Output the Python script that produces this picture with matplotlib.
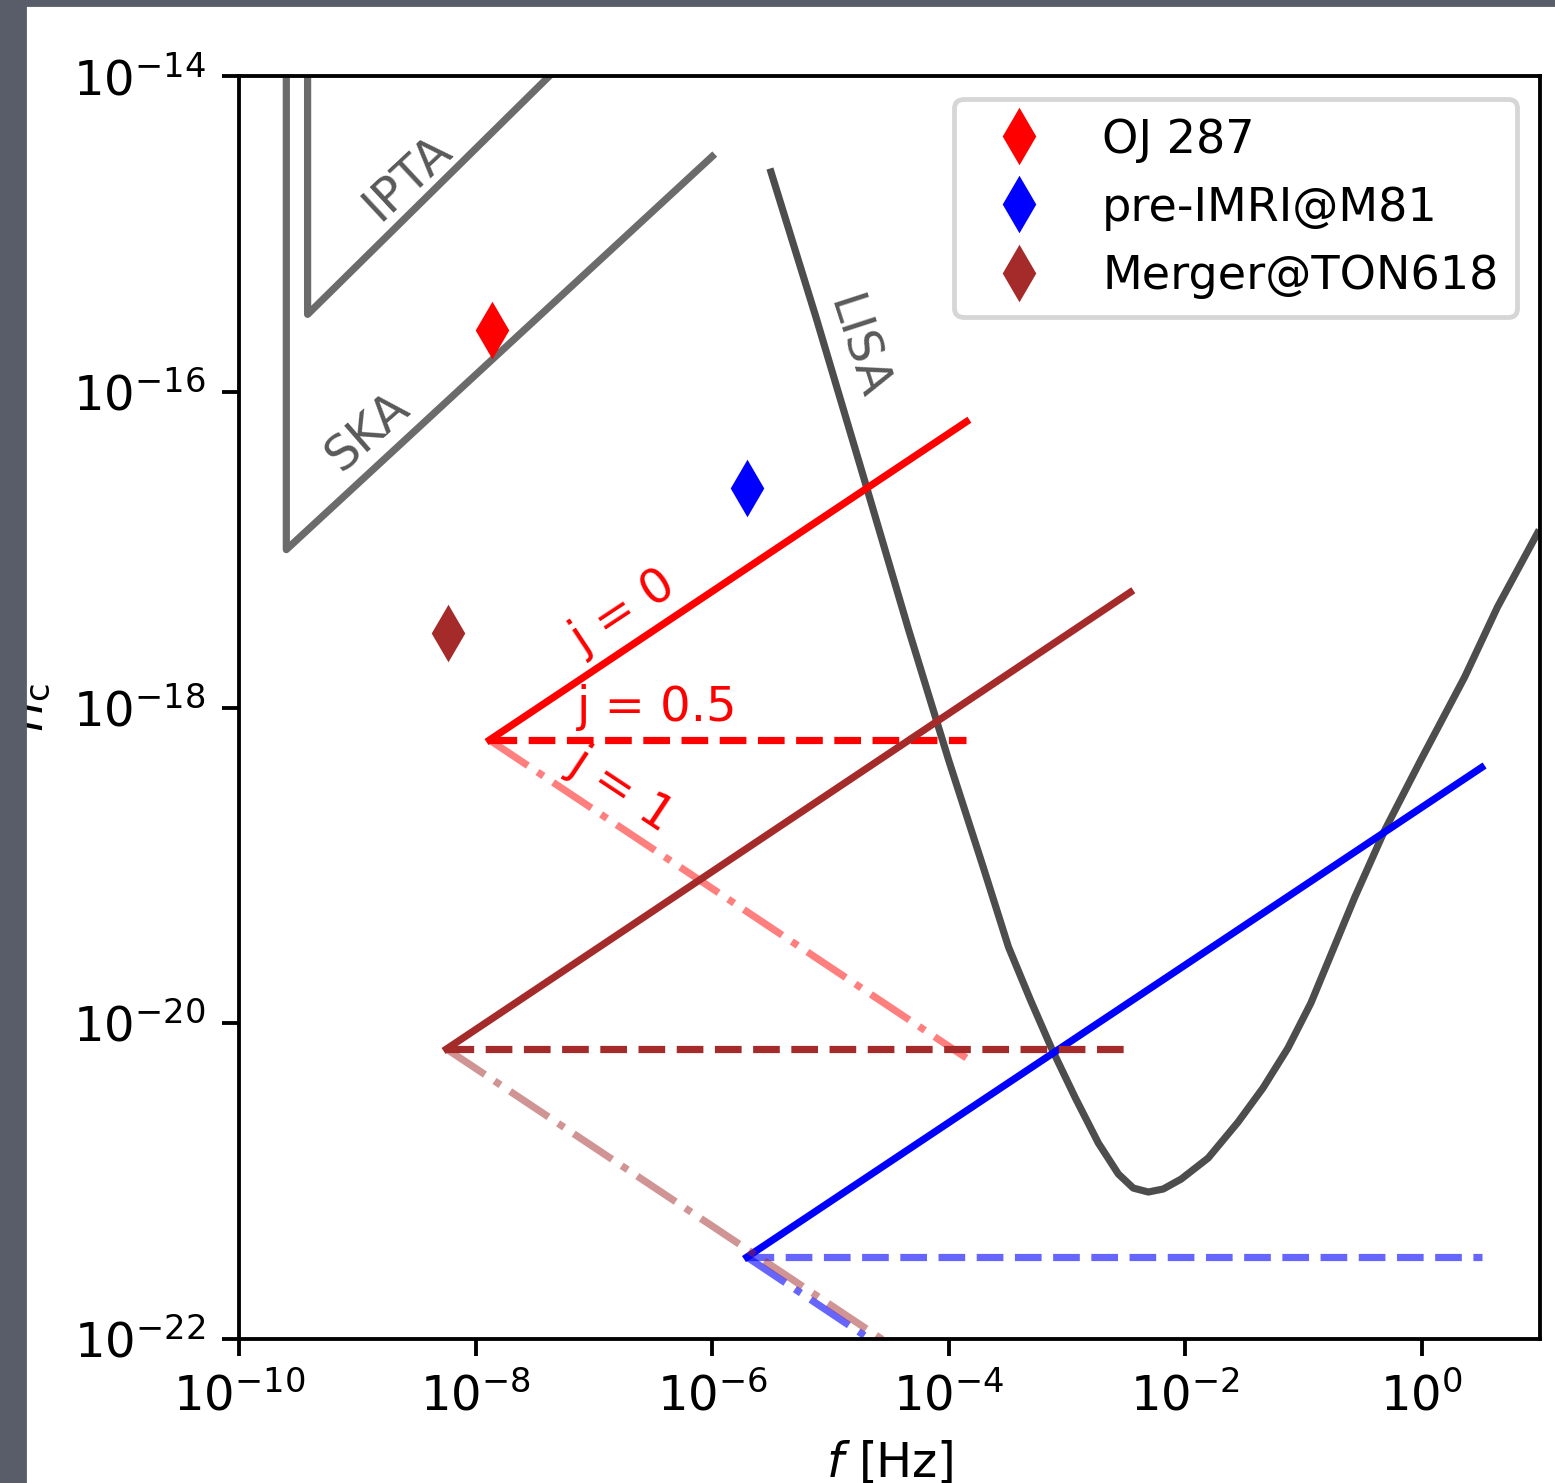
#!/usr/bin/env python3
"""Characteristic strain h_c vs f: PTA / LISA sensitivities and three SMBH binary tracks."""
import numpy as np
import matplotlib

matplotlib.use("Agg")
import matplotlib.pyplot as plt
from matplotlib.patches import Rectangle

# --- sensitivity curves (log10 f, log10 h_c) ---
ipta_logf = [-9.42, -9.42, -7.20]
ipta_logh = [-13.50, -15.51, -13.87]
ska_logf = [-9.60, -9.60, -6.00]
ska_logh = [-13.50, -17.00, -14.51]
lisa_logf = [-5.502, -5.122, -4.717, -4.338, -4.000, -3.705, -3.494, -3.308,
             -3.131, -2.928, -2.734, -2.565, -2.439, -2.312, -2.186, -2.034,
             -1.806, -1.553, -1.342, -1.131, -0.937, -0.751, -0.565, -0.312,
             -0.008, 0.363, 0.641, 0.979]
lisa_logh = [-14.608, -15.527, -16.546, -17.509, -18.333, -19.017, -19.517, -19.853,
             -20.157, -20.474, -20.759, -20.955, -21.044, -21.069, -21.050, -20.987,
             -20.854, -20.626, -20.410, -20.157, -19.872, -19.536, -19.200, -18.776,
             -18.333, -17.807, -17.363, -16.895]

# --- sources: label, colour, marker point, track start/end (log10) ---
src_names = ["OJ 287", "pre-IMRI@M81", "Merger@TON618"]
src_colors = ["red", "blue", "brown"]
src_marker_logf = [-7.865, -5.705, -8.236]
src_marker_logh = [-15.609, -16.610, -17.528]
src_start_logf = [-7.882, -5.705, -8.245]
src_start_logh = [-18.206, -21.481, -20.163]
src_end_logf = [-3.85, 0.506, -2.464]
src_end_logh_j0 = [-16.19, -18.38, -17.27]
src_end_logh_j1 = [-20.22, -24.59, -23.05]
dash_alpha = [1.0, 0.6, 1.0]
dashdot_alpha = [0.5, 0.6, 0.5]

xticks = [1e-10, 1e-8, 1e-6, 1e-4, 1e-2, 1e0]
yticks = [1e-22, 1e-20, 1e-18, 1e-16, 1e-14]

W, H, DPI = 1555, 1483, 346
fig = plt.figure(figsize=(W / DPI, H / DPI), dpi=DPI)
ax = fig.add_axes([239 / W, 1 - 1339 / H, (1540 - 239) / W, (1339 - 76) / H])


def p(v):
    return np.power(10.0, v)


ax.plot(p(np.array(ipta_logf)), p(np.array(ipta_logh)), color="0.42")
ax.plot(p(np.array(ska_logf)), p(np.array(ska_logh)), color="0.42")
ax.plot(p(np.array(lisa_logf)), p(np.array(lisa_logh)), color="0.3")

for i, name in enumerate(src_names):
    c = src_colors[i]
    f0, h0, f1 = p(src_start_logf[i]), p(src_start_logh[i]), p(src_end_logf[i])
    ax.plot([f0, f1], [h0, p(src_end_logh_j0[i])], color=c, ls="-")
    ax.plot([f0, f1], [h0, h0], color=c, ls="--", alpha=dash_alpha[i])
    ax.plot([f0, f1], [h0, p(src_end_logh_j1[i])], color=c, ls="-.", alpha=dashdot_alpha[i])

for i, name in enumerate(src_names):
    ax.plot(p(src_marker_logf[i]), p(src_marker_logh[i]), ls="none", marker="d",
            ms=7, color=src_colors[i], label=name)

ax.text(p(-8.574), p(-14.640), "IPTA", color="0.35", rotation=43, ha="center", va="center")
ax.text(p(-8.911), p(-16.255), "SKA", color="0.35", rotation=41, ha="center", va="center")
ax.text(p(-4.776), p(-15.723), "LISA", color="0.35", rotation=-72, ha="center", va="center")
ax.text(p(-6.743), p(-17.395), "j = 0", color="red", rotation=33.5, ha="center", va="center")
ax.text(p(-6.464), p(-17.997), "j = 0.5", color="red", ha="center", va="center")
ax.text(p(-6.768), p(-18.523), "j = 1", color="red", rotation=-33.5, ha="center", va="center")

ax.set_xscale("log")
ax.set_yscale("log")
ax.set_xlim(1e-10, 10)
ax.set_ylim(1e-22, 1e-14)
ax.set_xticks(xticks)
ax.set_yticks(yticks)
ax.xaxis.set_minor_locator(matplotlib.ticker.NullLocator())
ax.yaxis.set_minor_locator(matplotlib.ticker.NullLocator())
ax.set_xlabel(r"$f$ [Hz]")
ax.set_ylabel(r"$h_{\rm c}$")
ax.legend(loc="upper right", fontsize=9.6)

# slide background showing at the left and top edges of the screenshot
bg = "#585d69"
fig.add_artist(Rectangle((0, 0), 24 / W, 1, transform=fig.transFigure,
                         color=bg, zorder=10))
fig.add_artist(Rectangle((0, 1 - 4 / H), 1, 4 / H, transform=fig.transFigure,
                         color=bg, zorder=10))

fig.savefig("out.png", dpi=DPI)
